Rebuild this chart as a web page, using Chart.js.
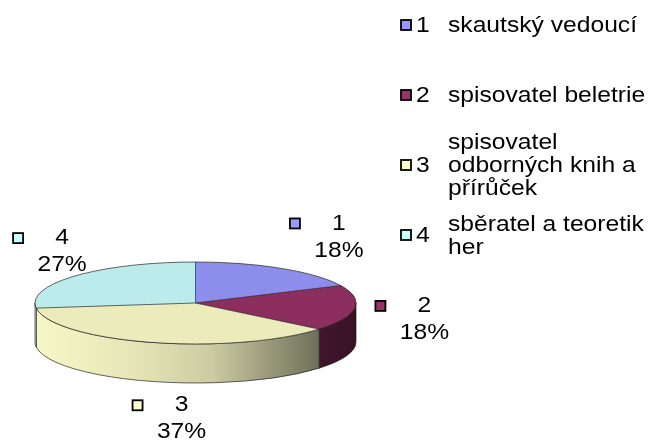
<!DOCTYPE html>
<html>
<head>
<meta charset="utf-8">
<script src="https://cdn.jsdelivr.net/npm/chart.js@4/dist/chart.umd.min.js"></script>
<style>
  html, body { margin: 0; padding: 0; background: #fff; }
  canvas { display: block; }
</style>
</head>
<body>
<canvas id="pie" width="649" height="442"></canvas>
<script>
// data
const keys = ['1', '2', '3', '4'];
const categories = ['skautský vedoucí', 'spisovatel beletrie', 'spisovatel odborných knih a přírůček', 'sběratel a teoretik her'];
const shares = [18, 18, 37, 27];

// styles
const baseColors = ['#9999FF', '#993366', '#FFFFCC', '#CCFFFF'];
const labelNudgeX = [4, -2, 10, -15];
const topShade = 0.92;
const pieDepth = 39;
const FONT = '22px "Liberation Sans", Arial, sans-serif';
const SX = 1.12; // text in the picture is a bit wider than plain Arial

function shade(hex, f) {
  const n = parseInt(hex.slice(1), 16);
  const r = Math.round(((n >> 16) & 255) * f);
  const g = Math.round(((n >> 8) & 255) * f);
  const b = Math.round((n & 255) * f);
  return `rgb(${r},${g},${b})`;
}

function wideText(ctx, text, x, y, align) {
  ctx.save();
  ctx.translate(x, y);
  ctx.scale(SX, 1);
  ctx.textAlign = align || 'left';
  ctx.fillText(text, 0, 0);
  ctx.restore();
}

function wrap(ctx, text, maxW) {
  const words = text.split(' ');
  const lines = [];
  let cur = '';
  words.forEach(w => {
    const test = cur ? cur + ' ' + w : w;
    if (cur && ctx.measureText(test).width * SX > maxW) {
      lines.push(cur);
      cur = w;
    } else {
      cur = test;
    }
  });
  if (cur) lines.push(cur);
  return lines;
}

function keyBox(ctx, x, y, color) {
  ctx.fillStyle = color;
  ctx.fillRect(x, y, 10, 10);
  ctx.strokeStyle = '#000';
  ctx.lineWidth = 1.8;
  ctx.strokeRect(x, y, 10, 10);
}

function geom(chart) {
  const a = chart.chartArea;
  const RX = (a.right - a.left) / 2;
  const RY = (a.bottom - a.top - pieDepth) / 2;
  return { CX: a.left + RX, CY: a.top + RY, RX, RY, D: pieDepth };
}

const pie3d = {
  id: 'pie3d',
  beforeDatasetsDraw(chart) {
    const ctx = chart.ctx;
    const { CX, CY, RX, RY, D } = geom(chart);
    const arcs = chart.getDatasetMeta(0).data;

    // front walls
    arcs.forEach((arc, i) => {
      const a0 = Math.max(arc.startAngle, 0);
      const a1 = Math.min(arc.endAngle, Math.PI);
      if (a1 <= a0) return;
      const grad = ctx.createLinearGradient(CX - RX, 0, CX + RX, 0);
      [[0, 0.97], [0.3, 0.9], [0.55, 0.8], [0.75, 0.58], [0.88, 0.44], [1, 0.36]]
        .forEach(([t, f]) => grad.addColorStop(t, shade(baseColors[i], f)));
      ctx.beginPath();
      ctx.ellipse(CX, CY, RX, RY, 0, a0, a1, false);
      ctx.lineTo(CX + RX * Math.cos(a1), CY + D + RY * Math.sin(a1));
      ctx.ellipse(CX, CY + D, RX, RY, 0, a1, a0, true);
      ctx.closePath();
      ctx.fillStyle = grad;
      ctx.fill();
      ctx.strokeStyle = 'rgba(30,30,30,0.85)';
      ctx.lineWidth = 0.8;
      ctx.stroke();
    });

    // squash the library's circle into the top ellipse
    const a = arcs[0];
    ctx.save();
    ctx.translate(CX, CY);
    ctx.scale(RX / a.outerRadius, RY / a.outerRadius);
    ctx.translate(-a.x, -a.y);
  },
  afterDatasetsDraw(chart) {
    const ctx = chart.ctx;
    ctx.restore();
    const { CX, CY, RX, RY, D } = geom(chart);
    const arcs = chart.getDatasetMeta(0).data;

    ctx.strokeStyle = 'rgba(30,30,30,0.85)';
    ctx.lineWidth = 0.8;
    ctx.beginPath();
    ctx.ellipse(CX, CY, RX, RY, 0, 0, Math.PI * 2);
    ctx.stroke();
    arcs.forEach(arc => {
      ctx.beginPath();
      ctx.moveTo(CX, CY);
      ctx.lineTo(CX + RX * Math.cos(arc.startAngle), CY + RY * Math.sin(arc.startAngle));
      ctx.stroke();
    });

    // data labels
    const total = shares.reduce((s, v) => s + v, 0);
    ctx.font = FONT;
    ctx.textBaseline = 'middle';
    arcs.forEach((arc, i) => {
      const mid = (arc.startAngle + arc.endAngle) / 2;
      const px = CX + 32 + (RX + 40) * Math.cos(mid) + labelNudgeX[i];
      const py = CY + (RY + 39) * Math.sin(mid) + D * Math.max(0, Math.sin(mid));
      const y1 = py - 12;
      keyBox(ctx, px - 49, y1 - 5, baseColors[i]);
      ctx.fillStyle = '#000';
      wideText(ctx, keys[i], px, y1, 'center');
      wideText(ctx, Math.round(shares[i] / total * 100) + '%', px, y1 + 27, 'center');
    });

    // legend
    const slot = 70, top = 25, lh = 23;
    categories.forEach((c, i) => {
      const ky = top + i * slot;
      keyBox(ctx, 401, ky - 5, baseColors[i]);
      ctx.fillStyle = '#000';
      wideText(ctx, keys[i], 416, ky + 1, 'left');
      const lines = wrap(ctx, c, 205);
      const y0 = ky + 1 - (lines.length - 1) * lh / 2;
      lines.forEach((ln, j) => wideText(ctx, ln, 448, y0 + j * lh, 'left'));
    });
  }
};

new Chart(document.getElementById('pie'), {
  type: 'pie',
  data: {
    labels: keys,
    datasets: [{
      data: shares,
      backgroundColor: baseColors.map(c => shade(c, topShade)),
      borderWidth: 0
    }]
  },
  options: {
    responsive: false,
    animation: false,
    layout: { padding: { left: 35, right: 293, top: 262, bottom: 59 } },
    plugins: { legend: { display: false }, tooltip: { enabled: false } }
  },
  plugins: [pie3d]
});
</script>
</body>
</html>
